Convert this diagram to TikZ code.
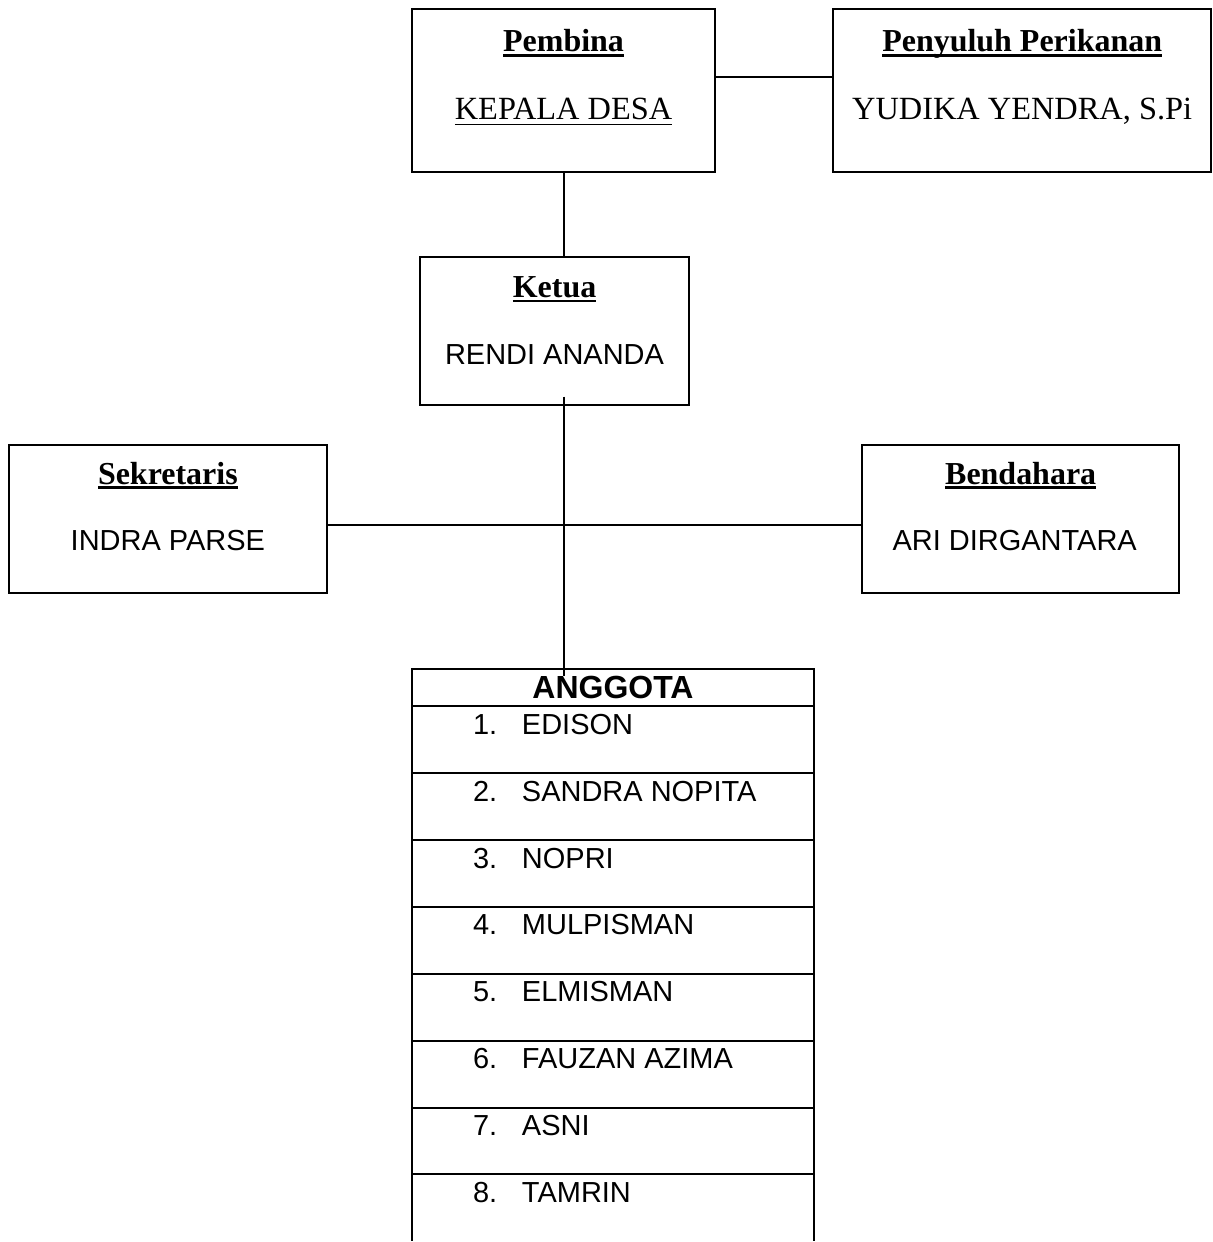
\documentclass[tikz,border=0pt]{standalone}
\usepackage{fontspec}
\setmainfont{Liberation Serif}
\setsansfont{Liberation Sans}

\newcommand{\ulthick}[1]{\sbox0{#1}\rlap{\usebox0}\rule[-2.3pt]{\wd0}{1.4pt}}
\newcommand{\ulthin}[1]{\sbox0{#1}\rlap{\usebox0}\rule[-2.6pt]{\wd0}{0.8pt}}

\tikzset{
	box/.style={draw, line width=1pt, rectangle, inner sep=0pt, outer sep=0pt},
	titletext/.style={anchor=base, inner sep=0pt, font=\fontsize{16}{19}\selectfont\bfseries},
	nametext/.style={anchor=base, inner sep=0pt, font=\fontsize{16.2}{19}\selectfont},
	namesans/.style={anchor=base, inner sep=0pt, font=\fontsize{14.5}{17}\selectfont\sffamily},
	listtext/.style={anchor=base west, inner sep=0pt, font=\fontsize{14.5}{17}\selectfont\sffamily},
	link/.style={line width=1pt},
}

\begin{document}
\begin{tikzpicture}[x=0.5pt, y=-0.5pt]
	
	\fill [white] (0,0) rectangle (1213,1242);
	
	% boxes
	\node [box, minimum width=152pt, minimum height=81.5pt] (pembina) at (564,90.5) {};
	\node [box, minimum width=189pt, minimum height=81.5pt] (penyuluh) at (1023,90.5) {};
	\node [box, minimum width=135pt, minimum height=74pt] (ketua) at (555,331) {};
	\node [box, minimum width=159pt, minimum height=74pt] (sekretaris) at (168,519) {};
	\node [box, minimum width=158.5pt, minimum height=74pt] (bendahara) at (1021.5,519) {};
	\node [box, anchor=north, minimum width=201.5pt, minimum height=18.5pt,
	font=\fontsize{16}{19}\selectfont\sffamily\bfseries] (anggota) at (613.5,670) {ANGGOTA};
	
	% texts
	\node [titletext] (pembinaT) at ([yshift=-21.5pt]pembina.north) {\ulthick{Pembina}};
	\node [nametext] (pembinaN) at ([yshift=-55.5pt]pembina.north) {\ulthin{KEPALA DESA}};
	\node [titletext] (penyuluhT) at ([yshift=-21.5pt]penyuluh.north) {\ulthick{Penyuluh Perikanan}};
	\node [nametext] (penyuluhN) at ([yshift=-55.5pt]penyuluh.north) {YUDIKA YENDRA, S.Pi};
	\node [titletext] (ketuaT) at ([yshift=-20.5pt]ketua.north) {\ulthick{Ketua}};
	\node [namesans] (ketuaN) at ([yshift=-54pt]ketua.north) {RENDI ANANDA};
	\node [titletext] (sekretarisT) at ([yshift=-20pt]sekretaris.north) {\ulthick{Sekretaris}};
	\node [namesans] (sekretarisN) at ([yshift=-53pt]sekretaris.north) {INDRA PARSE};
	\node [titletext] (bendaharaT) at ([yshift=-20pt]bendahara.north) {\ulthick{Bendahara}};
	\node [namesans] (bendaharaN) at ([xshift=-3pt, yshift=-53pt]bendahara.north) {ARI DIRGANTARA};
	
	% connectors
	\draw [link] ([yshift=6.75pt]pembina.east) -- ([yshift=6.75pt]penyuluh.west);
	\draw [link] (pembina.south) -- (pembina.south |- ketua.north);
	\draw [link] ([yshift=4pt]ketua.south -| pembina.south) -- ([yshift=-3.5pt]anggota.north -| pembina.south);
	\draw [link] ([yshift=-3pt]sekretaris.east) -- ([yshift=-3pt]bendahara.west);
	
	% member list
	\draw [link] (anggota.south west) -- (412,1242);
	\draw [link] (anggota.south east) -- (815,1242);
	\foreach \nama [count=\i] in {EDISON, SANDRA NOPITA, NOPRI, MULPISMAN, ELMISMAN, FAUZAN AZIMA, ASNI, TAMRIN}{
		\pgfmathsetmacro{\rowtop}{707+(\i-1)*66.9}
		\node [listtext] (item\i) at (473,\rowtop+28) {\makebox[24.5pt][l]{\i.}\nama};
		\ifnum\i>1 \draw [link] (412,\rowtop) -- (815,\rowtop); \fi
	}
	
\end{tikzpicture}
\end{document}
